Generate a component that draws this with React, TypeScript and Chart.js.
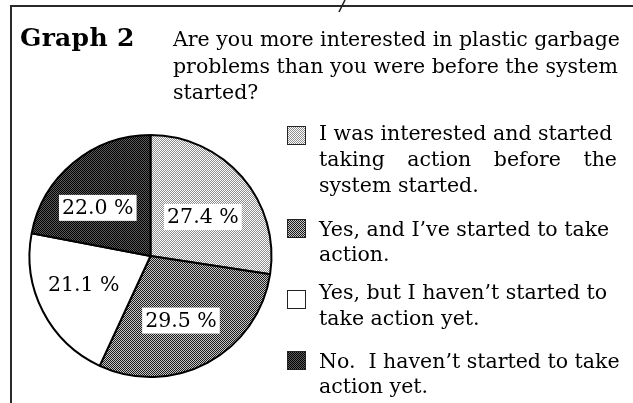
import React, { useEffect, useRef } from "react";
import { Chart, registerables } from "chart.js";

Chart.register(...registerables);

const categories = [
  "I was interested and started taking action before the system started.",
  "Yes, and I've started to take action.",
  "Yes, but I haven't started to take action yet.",
  "No.  I haven't started to take action yet.",
];
const values = [27.4, 29.5, 21.1, 22.0];
const valueLabels = ["27.4 %", "29.5 %", "21.1 %", "22.0 %"];
const legendLines = [
  ["I was interested and started", "taking action before the", "system started."],
  ["Yes, and I\u2019ve started to take", "action."],
  ["Yes, but I haven\u2019t started to", "take action yet."],
  ["No.  I haven\u2019t started to take", "action yet."],
];
const titleLead = "Graph 2";
const titleLines = [
  "Are you more interested in plastic garbage",
  "problems than you were before the system",
  "started?",
];

// 2x2 dither tiles: [topLeft, topRight, bottomLeft, bottomRight]
const tiles = [
  ["#ffffff", "#8c8c8c", "#8c8c8c", "#ffffff"],
  ["#1a1a1a", "#c8c8c8", "#c8c8c8", "#1a1a1a"],
  ["#ffffff", "#ffffff", "#ffffff", "#ffffff"],
  ["#000000", "#5a5a5a", "#5a5a5a", "#000000"],
];

function makeTile(cols: string[]) {
  const c = document.createElement("canvas");
  c.width = 2;
  c.height = 2;
  const x = c.getContext("2d")!;
  x.fillStyle = cols[0]; x.fillRect(0, 0, 1, 1);
  x.fillStyle = cols[1]; x.fillRect(1, 0, 1, 1);
  x.fillStyle = cols[2]; x.fillRect(0, 1, 1, 1);
  x.fillStyle = cols[3]; x.fillRect(1, 1, 1, 1);
  return c;
}

const tileCanvases = tiles.map(makeTile);
const tileUrls = tileCanvases.map((c) => c.toDataURL());

const FONT = '"DejaVu Serif", "Liberation Serif", serif';
const FS = 20.5;

const labelPlugin = {
  id: "sliceLabels",
  afterDatasetsDraw(chart: any, _args: any, opts: any) {
    const ctx = chart.ctx;
    const meta = chart.getDatasetMeta(0);
    ctx.save();
    ctx.font = `${FS}px ${FONT}`;
    ctx.textAlign = "center";
    ctx.textBaseline = "middle";
    meta.data.forEach((arc: any, i: number) => {
      const p = arc.getProps(["x", "y", "startAngle", "endAngle", "outerRadius"], true);
      const mid = (p.startAngle + p.endAngle) / 2 + (opts.nudge[i] || 0) * Math.PI / 180;
      const r = p.outerRadius * opts.radius[i];
      const cx = p.x + Math.cos(mid) * r;
      const cy = p.y + Math.sin(mid) * r;
      const text = valueLabels[i];
      const w = ctx.measureText(text).width + 6;
      const h = 26;
      ctx.fillStyle = "#ffffff";
      ctx.fillRect(cx - w / 2, cy - h / 2, w, h);
      ctx.fillStyle = "#000000";
      ctx.fillText(text, cx, cy + 1);
    });
    ctx.restore();
  },
};

export default function App() {
  const ref = useRef<HTMLCanvasElement>(null);
  useEffect(() => {
    const canvas = ref.current!;
    const ctx = canvas.getContext("2d")!;
    const patterns = tileCanvases.map((t) => ctx.createPattern(t, "repeat")!);
    const chart = new Chart(canvas, {
      type: "pie",
      data: {
        labels: categories,
        datasets: [
          {
            data: values,
            backgroundColor: patterns as any,
            borderColor: "#000000",
            borderWidth: 2,
          },
        ],
      },
      options: {
        animation: false,
        responsive: false,
        layout: { padding: { left: 28, top: 134, right: 360, bottom: 25 } },
        plugins: {
          legend: { display: false },
          tooltip: { enabled: false },
          sliceLabels: { nudge: [4, 3, 4, -8], radius: [0.54, 0.59, 0.6, 0.59] },
        } as any,
      },
      plugins: [labelPlugin],
    });
    return () => chart.destroy();
  }, []);

  const textStyle: React.CSSProperties = {
    position: "absolute",
    fontFamily: FONT,
    fontSize: FS,
    lineHeight: "normal",
    color: "#000",
    whiteSpace: "pre",
  };
  const asc = FS * 0.928;
  const legendBaselines = [
    [140, 166, 192],
    [236, 261],
    [299, 325],
    [368, 393],
  ];
  const swatchTops = [126, 219, 290, 351];
  const titleBaselines = [46, 73, 99];
  const leadSize = 25;

  return (
    <div
      style={{
        position: "fixed",
        left: 0,
        top: 0,
        width: 633,
        height: 403,
        background: "#fff",
        overflow: "hidden",
      }}
    >
      <div
        style={{
          position: "absolute",
          left: 10,
          top: 5,
          width: 640,
          height: 420,
          borderTop: "2px solid #2a2a2a",
          borderLeft: "2px solid #2a2a2a",
        }}
      />
      <svg
        width={20}
        height={16}
        style={{ position: "absolute", left: 333, top: 0 }}
      >
        <line x1={12} y1={0} x2={6} y2={12} stroke="#222" strokeWidth={1.6} />
      </svg>
      <canvas ref={ref} width={633} height={403} style={{ position: "absolute", left: 0, top: 0 }} />
      <div
        style={{
          ...textStyle,
          left: 20,
          top: titleBaselines[0] - leadSize * 0.928,
          fontSize: leadSize,
          fontWeight: "bold",
          letterSpacing: 0.3,
        }}
      >
        {titleLead}
      </div>
      {titleLines.map((t, i) => (
        <div key={"t" + i} style={{ ...textStyle, left: 173, top: titleBaselines[i] - asc }}>
          {t}
        </div>
      ))}
      {legendLines.map((lines, k) => (
        <React.Fragment key={"l" + k}>
          <div
            style={{
              position: "absolute",
              left: 287,
              top: swatchTops[k],
              width: 17,
              height: 17,
              border: "1px solid #222",
              backgroundImage: `url(${tileUrls[k]})`,
              backgroundRepeat: "repeat",
              imageRendering: "pixelated",
            }}
          />
          {lines.map((t, i) => (
            <div
              key={i}
              style={{
                ...textStyle,
                left: 319,
                top: legendBaselines[k][i] - asc,
                width: 298,
                textAlign: k === 0 && i === 1 ? "justify" : "left",
                textAlignLast: k === 0 && i === 1 ? "justify" : "auto",
                whiteSpace: k === 0 && i === 1 ? "normal" : "pre",
              }}
            >
              {t}
            </div>
          ))}
        </React.Fragment>
      ))}
    </div>
  );
}
